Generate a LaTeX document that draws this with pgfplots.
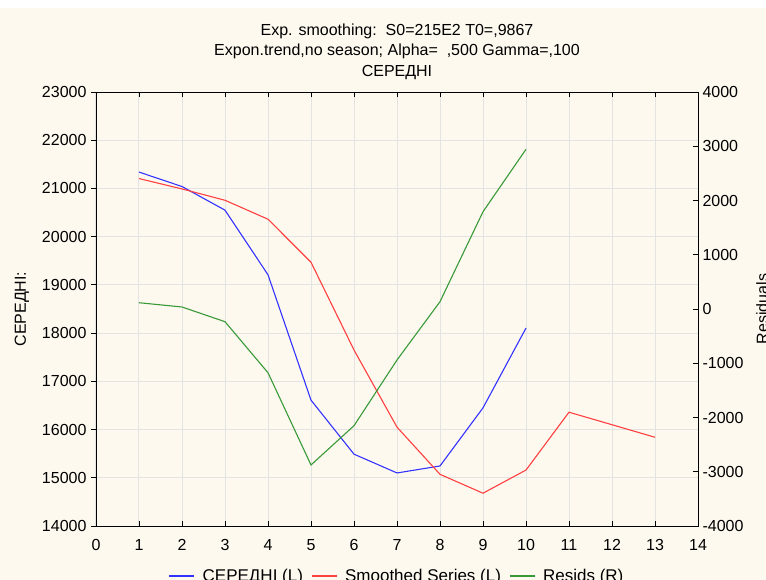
\documentclass[border=0pt]{standalone}
\usepackage{pgfplots}
\pgfplotsset{compat=1.18}
\usepackage{fontspec}
\setmainfont{Liberation Sans}
\definecolor{cream}{HTML}{FEF9EF}
\definecolor{cblue}{rgb}{0.2,0.2,1}
\definecolor{cred}{rgb}{1,0.25,0.25}
\definecolor{cgreen}{rgb}{0.22,0.6,0.22}
\begin{document}
\begin{tikzpicture}[x=1pt,y=1pt]
\clip (0,0) rectangle (766,-580);
\fill[white] (0,0) rectangle (766,-580);
\fill[cream] (0,-8) rectangle (766,-580);
\pgfplotsset{
  common/.style={
    at={(96pt,-526pt)}, anchor=south west,
    width=602pt, height=434pt, scale only axis,
    xmin=0, xmax=14,
    font=\fontsize{16}{19}\selectfont,
    /pgf/number format/assume math mode=true,
    /pgf/number format/1000 sep={},
    scaled y ticks=false,
    axis line style={black, line width=0.8pt},
    tick style={black, line width=0.8pt},
    major tick length=5pt,
  }
}
\begin{axis}[common,
  ymin=14000, ymax=23000,
  xtick={0,...,14}, ytick={14000,15000,...,23000},
  ytick pos=left,
  xtick align=inside, ytick align=outside,
  grid=major, grid style={color=black!11, line width=1pt},
  ylabel={СЕРЕДНІ:},
  ylabel shift=6pt,
  yticklabel style={xshift=-1pt},
  xticklabel style={yshift=-10pt},
  title style={align=center, font=\fontsize{16}{20.5}\selectfont, anchor=south, at={(0.5,1)}, yshift=3pt},
  title={Exp. smoothing:\ \ S0=215E2 T0=,9867\\Expon.trend,no season; Alpha=\ \ ,500 Gamma=,100\\СЕРЕДНІ},
  legend columns=3,
  legend style={at={(0.5,0)}, anchor=center, yshift=-50pt, draw=none, fill=none,
    font=\fontsize{17}{19}\selectfont, column sep=6pt},
  legend image code/.code={\draw[#1] (0pt,0pt) -- (25pt,0pt);},
]
\addplot[cblue, line width=1.1pt] coordinates {
(1,21340)(2,21040)(3,20550)(4,19210)(5,16610)(6,15490)(7,15100)(8,15245)(9,16450)(10,18105)};
\addlegendentry{СЕРЕДНІ (L)}
\addplot[cred, line width=1.1pt] coordinates {
(1,21205)(2,20990)(3,20755)(4,20362)(5,19470)(6,17650)(7,16050)(8,15072)(9,14680)(10,15160)(11,16360)(12,16100)(13,15840)};
\addlegendentry{Smoothed Series (L)}
\addlegendimage{cgreen, line width=1.1pt}
\addlegendentry{Resids (R)}
\end{axis}
\begin{axis}[common,
  ymin=-4000, ymax=4000,
  ytick={-4000,-3000,...,4000},
  axis x line=none,
  axis y line*=right,
  ytick align=inside,
  yticklabel style={xshift=1pt},
  ylabel={Residuals},
  ylabel style={at={(axis description cs:1.091,0.5)}, anchor=north, rotate=0},
  ylabel shift=0pt,
]
\addplot[cgreen, line width=1.1pt] coordinates {
(1,116)(2,37)(3,-234)(4,-1175)(5,-2875)(6,-2151)(7,-940)(8,135)(9,1793)(10,2944)};
\end{axis}
\end{tikzpicture}
\end{document}
